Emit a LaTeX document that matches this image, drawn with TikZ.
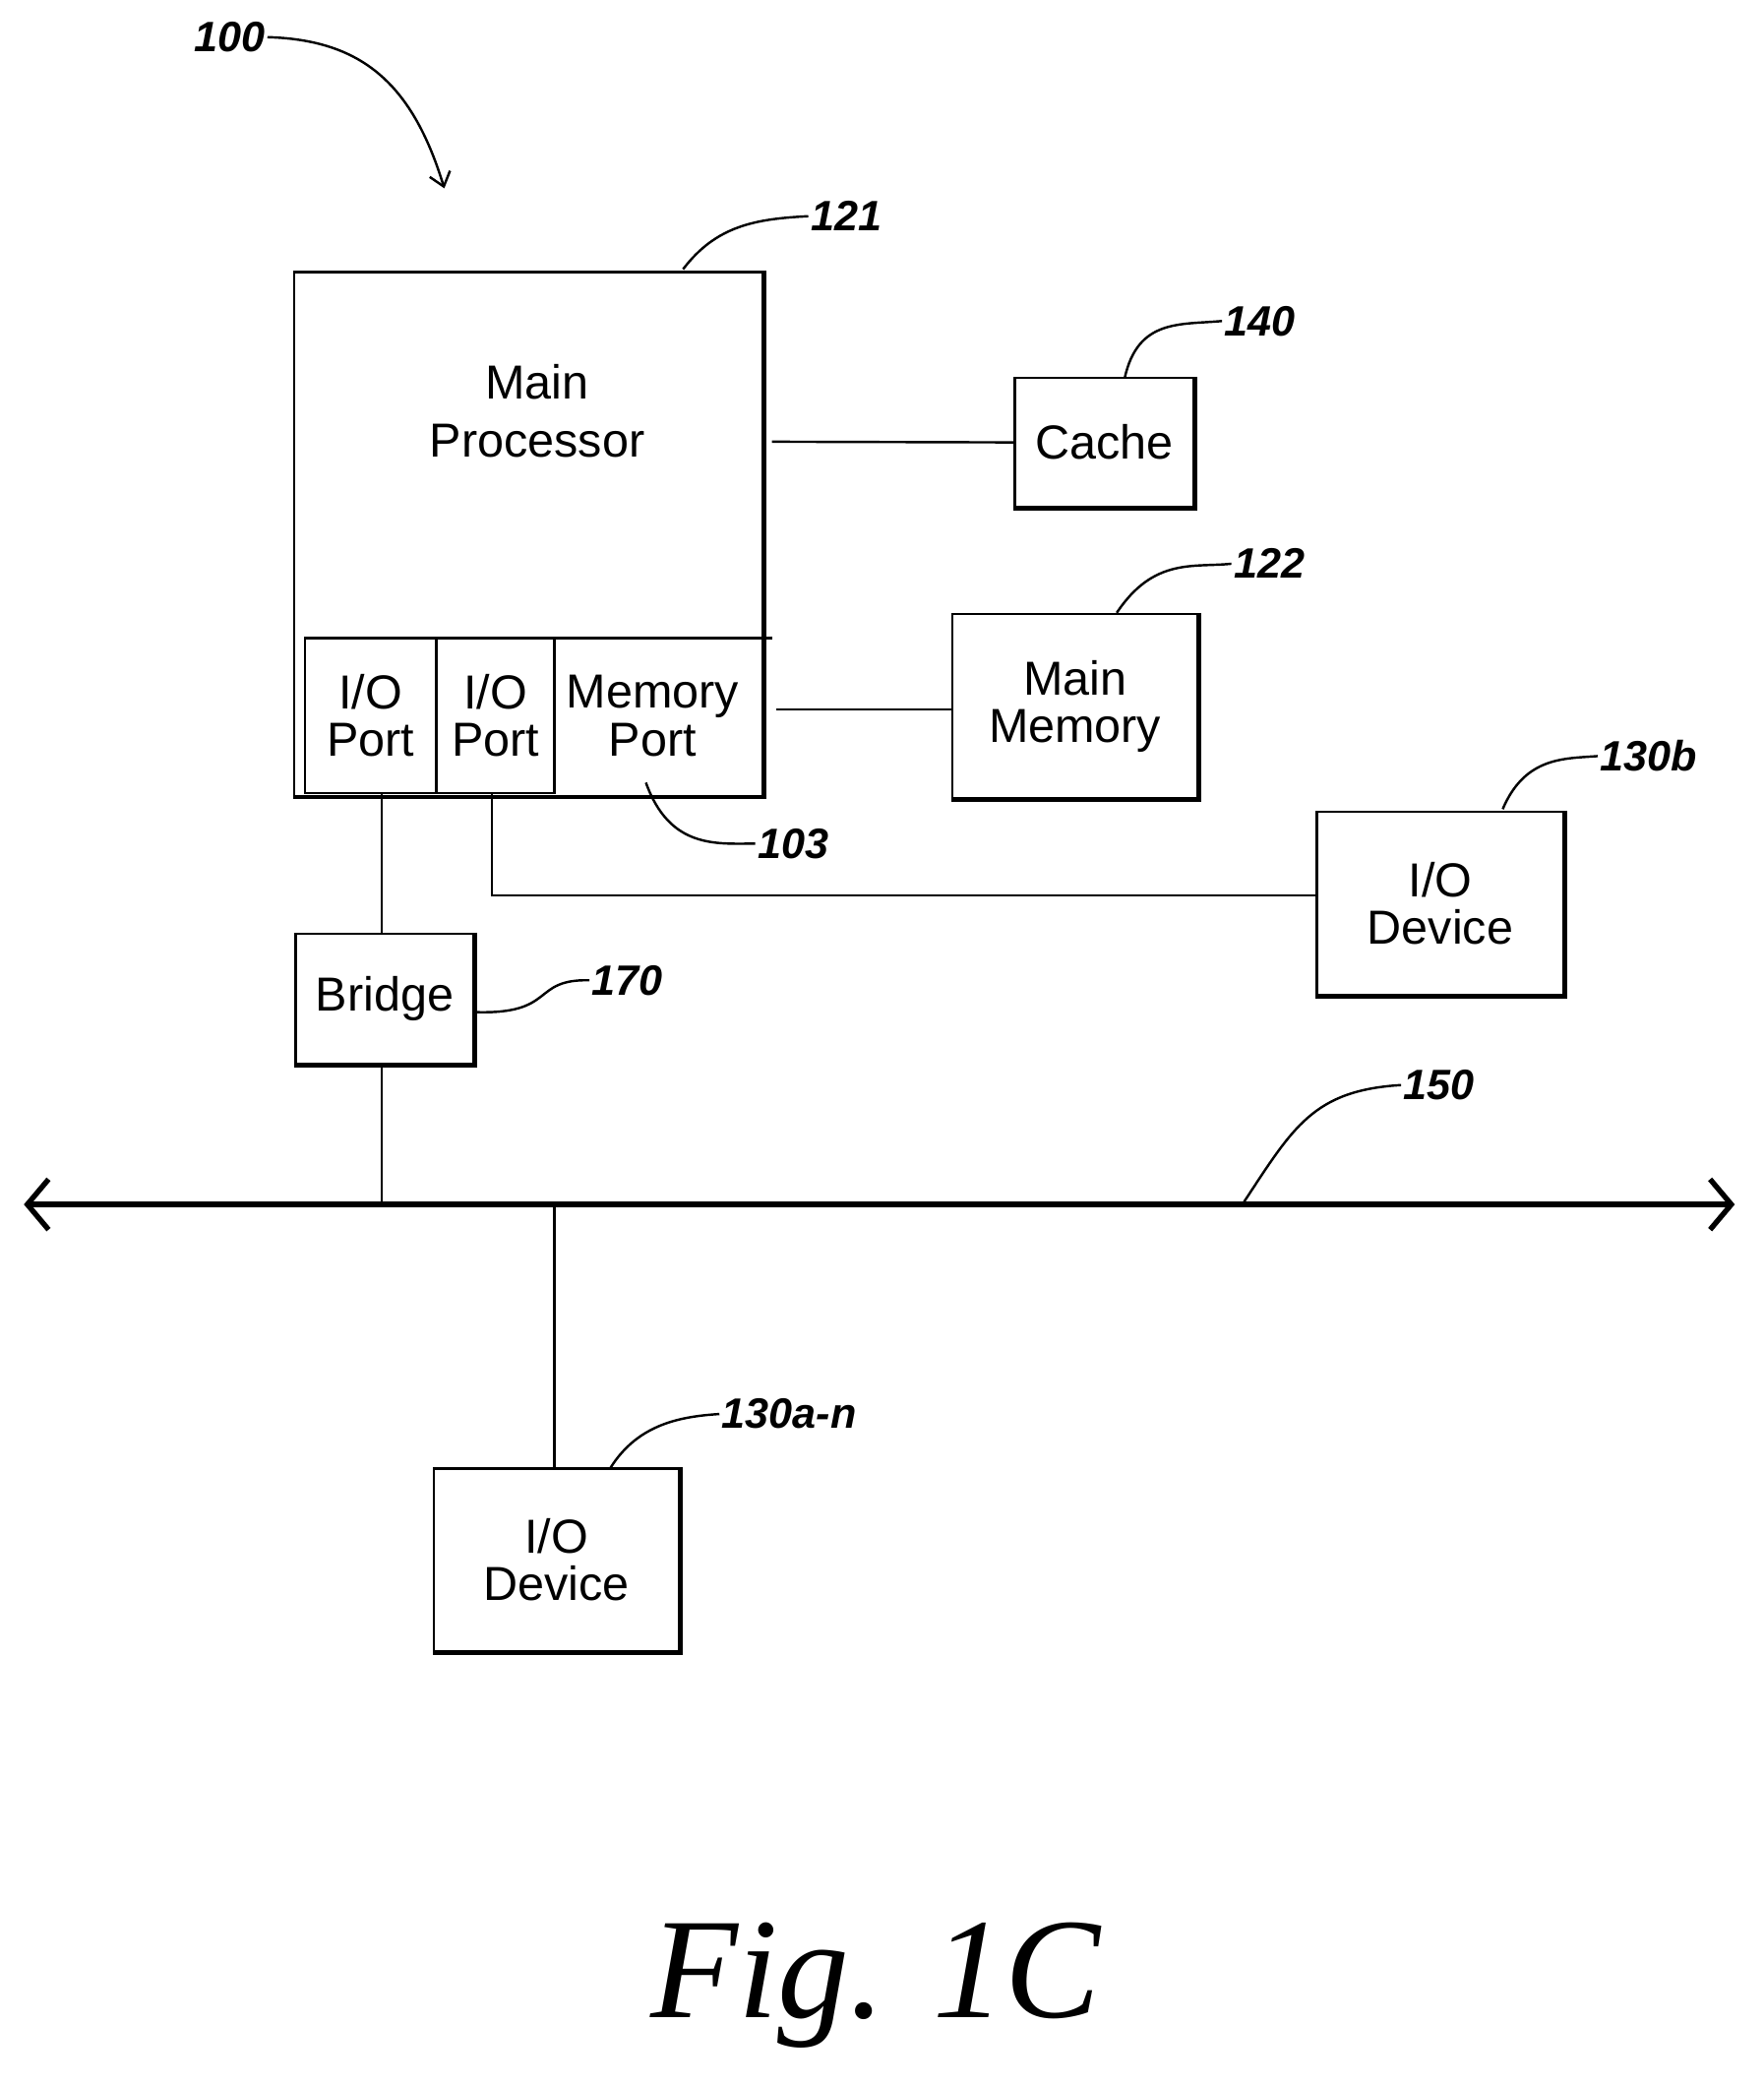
\documentclass[tikz,border=0pt]{standalone}
\usepackage{fontspec}
\setmainfont{Liberation Sans}
\newfontfamily\figfont{Liberation Serif}
\usetikzlibrary{arrows.meta}
\begin{document}
\begin{tikzpicture}[x=1pt,y=-1pt,line width=1.8pt,
  box/.style={draw,minimum width=#1,inner sep=0pt,align=center,font=\fontsize{36}{36}\selectfont},
  lbl/.style={font=\fontsize{32}{34}\selectfont\bfseries\itshape,inner sep=1pt},
  lead/.style={line width=1.6pt}]
\useasboundingbox (0,0) rectangle (1330,1572.6);
% main processor
\node[draw,minimum width=353,minimum height=395,inner sep=0pt] (mp) at (398.5,402.5) {};
\node[font=\fontsize{36}{44}\selectfont,align=center] (mpt) at (405,310) {Main\\Processor};
\draw[line width=3.5pt] (mp.north east) -- (mp.south east) -- (mp.south west);
\coordinate (pl) at (230,481); \coordinate (pr) at (582,481);
\draw (pl) -- (pr);
\node[box=99,minimum height=117] (p1) at (279.5,539.5) {I/O\\Port};
\node[box=89,minimum height=117] (p2) at (373.5,539.5) {I/O\\Port};
\node[box=157,minimum height=117,draw=none] (p3) at (492,539.5) {Memory\\Port};
% cache
\node[box=135,minimum height=97] (cache) at (832.5,333.5) {Cache};
\draw[line width=3.5pt] (cache.north east) -- (cache.south east) -- (cache.south west);
\coordinate (c1) at (582,333);
\draw (c1) -- (cache.west);
% main memory
\node[box=185,minimum height=139] (mm) at (810.5,532.5) {Main\\Memory};
\draw[line width=3.5pt] (mm.north east) -- (mm.south east) -- (mm.south west);
\coordinate (m1) at (585,535);
\draw (m1) -- (mm.west |- m1);
% io device b
\node[box=186,minimum height=138] (iob) at (1086,681) {I/O\\Device};
\draw[line width=3.5pt] (iob.north east) -- (iob.south east) -- (iob.south west);
\coordinate (k1) at (371,675);
\draw (p2.south -| k1) -- (k1) -- (iob.west |- k1);
% bridge
\node[box=134,minimum height=98] (br) at (290,753) {Bridge};
\draw[line width=3.5pt] (br.north east) -- (br.south east) -- (br.south west);
\draw (p1.south -| 288,0) -- (br.north -| 288,0);
% bus
\coordinate (bl) at (18,908); \coordinate (brr) at (1308,908);
\draw[line width=4pt,{Straight Barb[length=16pt,width=38pt,line width=4pt]}-{Straight Barb[length=16pt,width=38pt,line width=4pt]}] (bl) -- (brr);
\coordinate (b1) at (288,908); \coordinate (b2) at (418,908);
\draw (br.south -| b1) -- (b1);
% io device a
\node[box=185,minimum height=138] (ioa) at (419.5,1176) {I/O\\Device};
\draw[line width=3.5pt] (ioa.north east) -- (ioa.south east) -- (ioa.south west);
\draw (b2) -- (ioa.north -| b2);
% labels
\node[lbl] (l100) at (173,28) {100};
\coordinate (a100) at (335,142);
\draw[-{Straight Barb[length=10pt,width=16pt]}] (l100.east) .. controls (270,30) and (310,60) .. (a100);
\node[lbl] (l121) at (638,163) {121};
\draw (515,203) .. controls (540,170) and (570,165) .. (l121.west);
\node[lbl] (l140) at (950,242) {140};
\draw (848,285) .. controls (858,240) and (890,245) .. (l140.west);
\node[lbl] (l122) at (957,425) {122};
\draw (842,462) .. controls (870,420) and (900,428) .. (l122.west);
\node[lbl] (l130b) at (1243,570) {130b};
\draw (1133,610) .. controls (1150,570) and (1180,572) .. (l130b.west);
\node[lbl] (l103) at (598,636) {103};
\draw (487,590) .. controls (505,640) and (540,636) .. (l103.west);
\node[lbl] (l170) at (473,739) {170};
\draw (br.east |- 0,763) .. controls (420,765) and (400,738) .. (l170.west);
\node[lbl] (l150) at (1085,818) {150};
\draw (938,906) .. controls (975,850) and (990,822) .. (l150.west);
\node[lbl] (l130a) at (595,1066) {130a-n};
\draw (460,1107) .. controls (480,1075) and (510,1068) .. (l130a.west);
\node[font=\figfont\fontsize{108}{108}\selectfont\itshape] (fig) at (660,1497) {Fig. 1C};
\end{tikzpicture}
\end{document}
